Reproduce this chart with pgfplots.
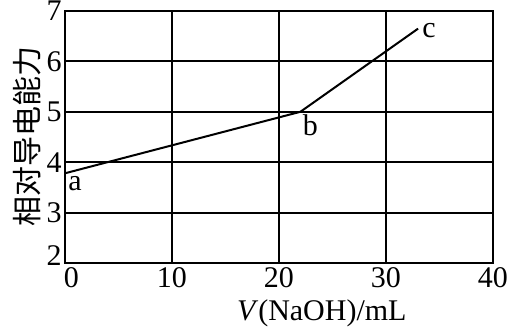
\documentclass[border=0pt]{standalone}
\usepackage{fontspec}
\setmainfont{Liberation Serif}
\newfontfamily\cjk{Noto Sans CJK SC}
\usepackage{pgfplots}
\pgfplotsset{compat=1.18}
\begin{document}
\fontsize{15}{18}\selectfont
\begin{tikzpicture}
\begin{axis}[
  at={(0pt,0pt)}, anchor=south west,
  scale only axis, width=214pt, height=126pt,
  xmin=0, xmax=40, ymin=2, ymax=7,
  xtick={0,10,20,30,40}, ytick={2,3,4,5,6,7},
  xticklabels={\hspace*{6.5pt}0,10,20,30,40},
  yticklabels={\raisebox{3.5pt}[\height][\depth]{2},3,4,5,6,7},
  grid=major,
  grid style={black, line width=1pt},
  axis line style={black, line width=1.3pt},
  major tick length=0pt,
  tick label style={font=\fontsize{15}{18}\selectfont, /pgf/number format/assume math mode=true},
  xticklabel style={inner sep=1pt, yshift=-1pt},
  yticklabel style={inner sep=1.5pt},
  xlabel={\textit{V}(NaOH)/mL},
  xlabel style={at={(axis cs:24,2)}, anchor=north, yshift=-13pt, font=\fontsize{15}{18}\selectfont},
  ylabel={{\cjk 相对导电能力}},
  ylabel style={at={(axis description cs:-0.089,0.5)}, anchor=center, font=\fontsize{15}{18}\selectfont},
  clip=false,
]
\addplot[black, line width=1pt] coordinates {(0,3.78) (22,5) (33,6.65)};
\node[anchor=north west, inner sep=1.5pt] at (axis cs:0,3.78) {a};
\node[anchor=north west, inner sep=1pt] at (axis cs:22,5) {b};
\node[anchor=west, inner sep=2pt, yshift=-1pt] at (axis cs:33,6.65) {c};
\end{axis}
\pgfresetboundingbox
\useasboundingbox (-32.5pt,-33.5pt) rectangle (224pt,131.5pt);
\end{tikzpicture}
\end{document}
